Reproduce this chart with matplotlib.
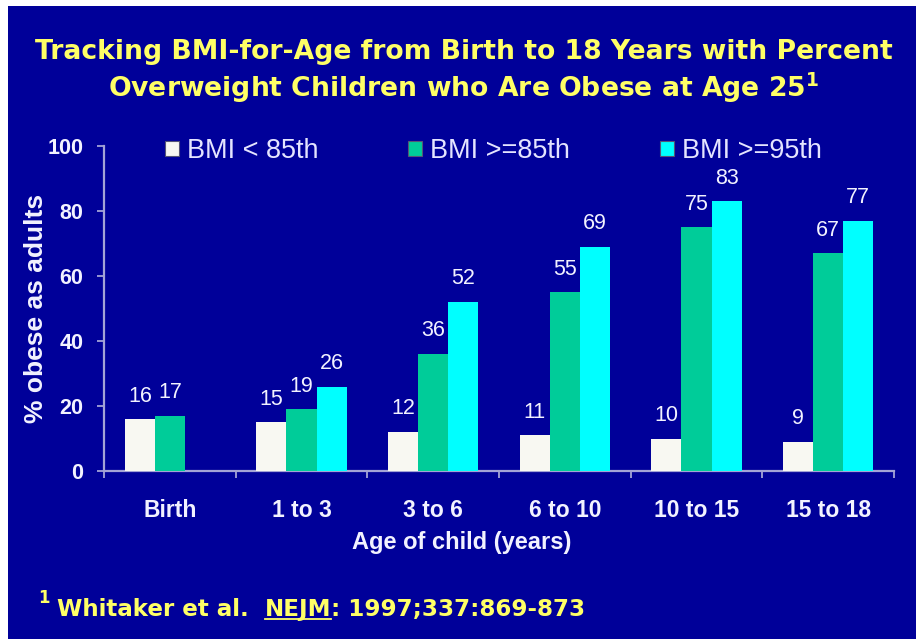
import numpy as np
import matplotlib
matplotlib.use("Agg")
import matplotlib.pyplot as plt
from matplotlib.patches import Rectangle
from matplotlib.lines import Line2D

# ---- data ----
categories = ["Birth", "1 to 3", "3 to 6", "6 to 10", "10 to 15", "15 to 18"]
series_names = ["BMI < 85th", "BMI >=85th", "BMI >=95th"]
bmi_lt85 = [16, 15, 12, 11, 10, 9]
bmi_ge85 = [17, 19, 36, 55, 75, 67]
bmi_ge95 = [np.nan, 26, 52, 69, 83, 77]
yticks = [0, 20, 40, 60, 80, 100]

title_line1 = "Tracking BMI-for-Age from Birth to 18 Years with Percent"
title_line2 = "Overweight Children who Are Obese at Age 25$^{\\mathbf{1}}$"
xlabel = "Age of child (years)"
ylabel = "% obese as adults"

W, H = 916, 639
BG = "#000099"
YEL = "#ffff66"
TXT = "#f2f2ff"
AXC = "#a3a3d6"
colors = ["#f8f8f2", "#00cc99", "#00ffff"]

fig = plt.figure(figsize=(W / 100, H / 100), dpi=100, facecolor="white")

def fx(x):
    return x / W

def fy(y):
    return 1 - y / H

# blue slide background (white margin at left/top)
fig.patches.append(Rectangle((fx(8), 0), 1 - fx(8), fy(6), transform=fig.transFigure,
                             facecolor=BG, edgecolor="none", zorder=-10))

ax = fig.add_axes([fx(104), fy(471), fx(894) - fx(104), fy(146) - fy(471)])
ax.set_facecolor("none")

x = np.arange(len(categories))
w = 0.228
series = [bmi_lt85, bmi_ge85, bmi_ge95]
offsets = [-w, 0, w]
bars = []
for vals, off, c, name in zip(series, offsets, colors, series_names):
    b = ax.bar(x + off, vals, width=w, color=c, edgecolor="none", label=name, zorder=3)
    bars.append(b)
    for xi, v in zip(x, vals):
        if np.isnan(v):
            continue
        ax.annotate(f"{int(v)}", (xi + off, v), xytext=(0, 9), textcoords="offset points",
                    ha="center", va="bottom", color=TXT, fontsize=15.5,
                    family="Liberation Sans")

ax.set_xlim(-0.5, len(categories) - 0.5)
ax.set_ylim(0, 100)

for s in ["top", "right"]:
    ax.spines[s].set_visible(False)
for s in ["left", "bottom"]:
    ax.spines[s].set_color(AXC)
    ax.spines[s].set_linewidth(1.6)

ax.set_yticks(yticks)
ax.set_yticklabels([str(t) for t in yticks], fontsize=15.5, fontweight="bold",
                   family="Liberation Sans", color=TXT)
ax.tick_params(axis="y", direction="out", length=5, width=1.3, color=AXC, pad=10)

ax.set_xticks(x)
ax.set_xticklabels(categories, fontsize=16.5, fontweight="bold",
                   family="Liberation Sans", color=TXT)
ax.tick_params(axis="x", which="major", length=0, pad=20)
ax.set_xticks(np.arange(-0.5, len(categories)), minor=True)
ax.tick_params(axis="x", which="minor", direction="out", length=5, width=1.3, color=AXC)

# legend
leg = ax.legend(handles=bars, labels=series_names, ncol=3, loc="center left",
                bbox_to_anchor=(fx(165), fy(151)), bbox_transform=fig.transFigure,
                frameon=False, prop={"family": "Liberation Sans", "size": 19.5},
                handlelength=0.52, handleheight=0.52, handletextpad=0.3,
                columnspacing=3.3, borderpad=0, borderaxespad=0)
for t in leg.get_texts():
    t.set_color("#e4e4ff")
for h in leg.legend_handles:
    h.set_edgecolor("#555577")
    h.set_linewidth(0.8)

# axis labels
fig.text(fx(462), fy(543), xlabel, ha="center", va="center", fontsize=17,
         fontweight="bold", family="Liberation Sans", color=TXT)
fig.text(fx(36), fy(308), ylabel, ha="center", va="center", rotation=90, fontsize=19,
         fontweight="bold", family="Liberation Sans", color=TXT)

# title
fig.text(fx(464), fy(52), title_line1, ha="center", va="center", fontsize=19.2,
         fontweight="bold", family="DejaVu Sans", color=YEL)
fig.text(fx(464), fy(88), title_line2, ha="center", va="center", fontsize=19.2,
         fontweight="bold", family="DejaVu Sans", color=YEL)

# footnote with underlined NEJM
fig.canvas.draw()
renderer = fig.canvas.get_renderer()
fs = 16.6
base_y = fy(616)
fig.text(fx(38), fy(603), "1", ha="left", va="baseline", fontsize=12,
         fontweight="bold", family="DejaVu Sans", color=YEL)
pieces = ["Whitaker et al.  ", "NEJM", ": 1997;337:869-873"]
cur_x = fx(57)
for i, p in enumerate(pieces):
    t = fig.text(cur_x, base_y, p, ha="left", va="baseline", fontsize=fs,
                 fontweight="bold", family="DejaVu Sans", color=YEL)
    bb = t.get_window_extent(renderer=renderer)
    x0 = bb.x0 / W
    x1 = bb.x1 / W
    if p == "NEJM":
        fig.add_artist(Line2D([x0, x1], [base_y - 3 / H, base_y - 3 / H],
                              transform=fig.transFigure, color=YEL, lw=1.3))
    cur_x = x1

fig.savefig("out.png", dpi=100, facecolor=fig.get_facecolor())
